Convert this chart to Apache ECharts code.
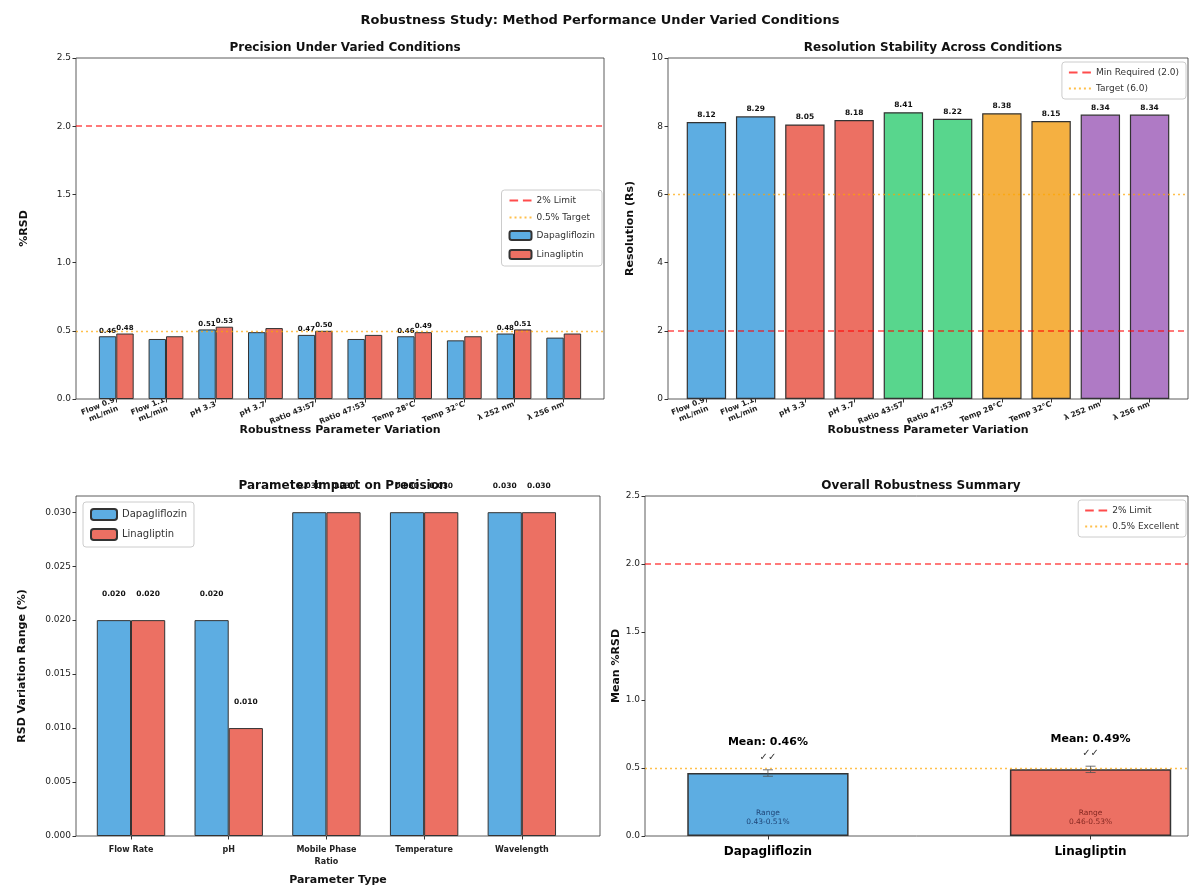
<!DOCTYPE html>
<html>
<head>
<meta charset="utf-8">
<script src="https://cdn.jsdelivr.net/npm/echarts@6/dist/echarts.min.js"></script>
<style>html,body{margin:0;padding:0;background:#fff}#chart{width:1190px;height:890px}</style>
</head>
<body>
<div id="chart"></div>
<script>
// conditions and measured values
const conditions = ['Flow 0.9\nmL/min', 'Flow 1.1\nmL/min', 'pH 3.3', 'pH 3.7', 'Ratio 43:57',
    'Ratio 47:53', 'Temp 28°C', 'Temp 32°C', 'λ 252 nm', 'λ 256 nm'];
const dapaRSD = [0.46, 0.44, 0.51, 0.49, 0.47, 0.44, 0.46, 0.43, 0.48, 0.45];
const linaRSD = [0.48, 0.46, 0.53, 0.52, 0.50, 0.47, 0.49, 0.46, 0.51, 0.48];
const resolution = [8.12, 8.29, 8.05, 8.18, 8.41, 8.22, 8.38, 8.15, 8.34, 8.34];
const paramTypes = ['Flow Rate', 'pH', 'Mobile Phase\nRatio', 'Temperature', 'Wavelength'];
const drugs = ['Dapagliflozin', 'Linagliptin'];
const rsdLimit = 2.0, rsdTarget = 0.5;
const rsMin = 2.0, rsTarget = 6.0;

const BLUE = '#5DADE2', RED = '#EC7063';
const groupColors = ['#5DADE2', '#EC7063', '#58D68D', '#F5B041', '#AF7AC5'];
const EDGE = '#333';
const FONT = 'DejaVu Sans';

// derived values
function range(arr, i) { return Math.round(Math.abs(arr[2 * i] - arr[2 * i + 1]) * 1000) / 1000; }
const dapaRange = paramTypes.map((p, i) => range(dapaRSD, i));
const linaRange = paramTypes.map((p, i) => range(linaRSD, i));
function mean(a) { return a.reduce((s, v) => s + v, 0) / a.length; }
function std(a) { const m = mean(a); return Math.sqrt(a.reduce((s, v) => s + (v - m) * (v - m), 0) / a.length); }
const allRSD = [dapaRSD, linaRSD];
const means = allRSD.map(mean);
const stds = allRSD.map(std);

const dashIcon = 'path://M0,0h9v2h-9zM14,0h9v2h-9z';
const dotIcon = 'path://M0,0h2v2h-2zM5,0h2v2h-2zM10,0h2v2h-2zM15,0h2v2h-2zM20,0h2v2h-2z';

let myChart = echarts.init(document.getElementById('chart'));

function refLine(name, value, kind, xi) {
    const color = kind === 'dash' ? 'rgba(255,0,0,0.7)' : 'rgba(255,165,0,0.7)';
    return {
        type: 'line', name: name, xAxisIndex: xi, yAxisIndex: xi, data: [],
        symbol: 'none', itemStyle: {color: color},
        lineStyle: {color: color, type: kind === 'dash' ? 'dashed' : 'dotted', width: kind === 'dash' ? 1.6 : 1.4},
        markLine: {
            silent: true, symbol: 'none', label: {show: false}, animation: false,
            lineStyle: {color: color, type: kind === 'dash' ? [6, 4] : [2, 3], width: kind === 'dash' ? 1.6 : 1.4},
            data: [{yAxis: value}]
        }
    };
}

function legendBox(pos, items) {
    return Object.assign({
        orient: 'vertical', itemWidth: 22, itemHeight: 9, itemGap: 7,
        padding: [6, 7], borderColor: '#ccc', borderWidth: 1, borderRadius: 3,
        backgroundColor: 'rgba(255,255,255,0.85)',
        textStyle: {fontFamily: FONT, fontSize: 9, color: '#333'},
        data: items
    }, pos);
}

const axisCommon = {
    axisLine: {show: false, onZero: false},
    splitLine: {show: false},
    nameTextStyle: {fontFamily: FONT, fontSize: 11, fontWeight: 'bold', color: '#111'}
};
function xAxis(gi, min, max, labels, labelStyle, name, nameGap) {
    const ticks = labels.map((l, i) => i);
    return Object.assign({}, axisCommon, {
        gridIndex: gi, type: 'value', min: min, max: max,
        name: name, nameLocation: 'middle', nameGap: nameGap, nameMoveOverlap: false,
        axisTick: {show: true, length: 3.5, lineStyle: {color: '#333'}, customValues: ticks},
        axisLabel: Object.assign({customValues: ticks, formatter: v => labels[Math.round(v)],
            fontFamily: FONT, fontWeight: 'bold', color: '#222'}, labelStyle)
    });
}
function yAxis(gi, max, interval, dec, name, nameGap) {
    return Object.assign({}, axisCommon, {
        gridIndex: gi, type: 'value', min: 0, max: max, interval: interval,
        name: name, nameLocation: 'middle', nameGap: nameGap,
        axisTick: {show: true, length: 3.5, lineStyle: {color: '#333'}},
        axisLabel: {formatter: v => v.toFixed(dec), fontFamily: FONT, fontSize: 9, color: '#222', margin: 5, showMaxLabel: dec !== 3}
    });
}

const subTitle = {fontFamily: FONT, fontSize: 12, fontWeight: 'bold', color: '#111'};

myChart.setOption({
    animation: false,
    textStyle: {fontFamily: FONT},
    title: [
        {text: 'Robustness Study: Method Performance Under Varied Conditions', left: 595, top: 9, textAlign: 'center',
            textStyle: {fontFamily: FONT, fontSize: 13, fontWeight: 'bold', color: '#111'}},
        {text: 'Precision Under Varied Conditions', left: 340, top: 37, textAlign: 'center', textStyle: subTitle},
        {text: 'Resolution Stability Across Conditions', left: 928, top: 37, textAlign: 'center', textStyle: subTitle},
        {text: 'Parameter Impact on Precision', left: 338, top: 475, textAlign: 'center', textStyle: subTitle},
        {text: 'Overall Robustness Summary', left: 916, top: 475, textAlign: 'center', textStyle: subTitle}
    ],
    legend: [
        legendBox({right: 588, top: 190, itemGap: 8}, [
            {name: '2% Limit', icon: dashIcon}, {name: '0.5% Target', icon: dotIcon}, 'Dapagliflozin', 'Linagliptin']),
        legendBox({right: 4, top: 62}, [
            {name: 'Min Required (2.0)', icon: dashIcon}, {name: 'Target (6.0)', icon: dotIcon}]),
        legendBox({left: 83, top: 502, itemWidth: 26, itemHeight: 11, itemGap: 7, textStyle: {fontFamily: FONT, fontSize: 10, color: '#333'}},
            ['Dapagliflozin', 'Linagliptin']),
        legendBox({right: 4, top: 500}, [
            {name: '2% Limit', icon: dashIcon}, {name: '0.5% Excellent', icon: dotIcon}])
    ],
    grid: [
        {left: 76, top: 58, width: 528, height: 341, show: true, borderColor: '#333', borderWidth: 0.8},
        {left: 668, top: 58, width: 520, height: 341, show: true, borderColor: '#333', borderWidth: 0.8},
        {left: 76, top: 496, width: 524, height: 340, show: true, borderColor: '#333', borderWidth: 0.8},
        {left: 645, top: 496, width: 543, height: 340, show: true, borderColor: '#333', borderWidth: 0.8}
    ],
    xAxis: [
        xAxis(0, -0.81, 9.81, conditions, {fontSize: 7.5, rotate: 22, margin: 5, lineHeight: 9}, 'Robustness Parameter Variation', 26),
        xAxis(1, -0.78, 9.78, conditions, {fontSize: 7.5, rotate: 22, margin: 5, lineHeight: 9}, 'Robustness Parameter Variation', 26),
        xAxis(2, -0.563, 4.8, paramTypes, {fontSize: 8, margin: 8, lineHeight: 12}, 'Parameter Type', 39),
        xAxis(3, -0.381, 1.302, drugs, {fontSize: 12, margin: 10, color: '#000'}, '', 20)
    ],
    yAxis: [
        yAxis(0, 2.5, 0.5, 1, '%RSD', 46),
        yAxis(1, 10, 2, 0, 'Resolution (Rs)', 32),
        yAxis(2, 0.0315, 0.005, 3, 'RSD Variation Range (%)', 48),
        yAxis(3, 2.5, 0.5, 1, 'Mean %RSD', 20)
    ],
    series: [
        refLine('2% Limit', rsdLimit, 'dash', 0),
        refLine('0.5% Target', rsdTarget, 'dot', 0),
        {
            type: 'bar', name: 'Dapagliflozin', xAxisIndex: 0, yAxisIndex: 0, barWidth: '35%', barGap: '0%',
            data: dapaRSD.map((v, i) => [i, v]),
            itemStyle: {color: BLUE, borderColor: EDGE, borderWidth: 1},
            label: {show: true, position: 'top', distance: 2, fontSize: 7, fontWeight: 'bold', color: '#111',
                formatter: p => p.dataIndex % 2 === 0 ? p.value[1].toFixed(2) : ''}
        },
        {
            type: 'bar', name: 'Linagliptin', xAxisIndex: 0, yAxisIndex: 0, barWidth: '35%', barGap: '0%',
            data: linaRSD.map((v, i) => [i, v]),
            itemStyle: {color: RED, borderColor: EDGE, borderWidth: 1},
            label: {show: true, position: 'top', distance: 2, fontSize: 7, fontWeight: 'bold', color: '#111',
                formatter: p => p.dataIndex % 2 === 0 ? p.value[1].toFixed(2) : ''}
        },
        refLine('Min Required (2.0)', rsMin, 'dash', 1),
        refLine('Target (6.0)', rsTarget, 'dot', 1),
        {
            type: 'bar', name: 'Resolution', xAxisIndex: 1, yAxisIndex: 1, barWidth: '80%',
            data: resolution.map((v, i) => ({value: [i, v], itemStyle: {color: groupColors[Math.floor(i / 2)]}})),
            itemStyle: {borderColor: EDGE, borderWidth: 1.2},
            label: {show: true, position: 'top', distance: 3, fontSize: 7.5, fontWeight: 'bold', color: '#111',
                formatter: p => p.value[1].toFixed(2)}
        },
        {
            type: 'bar', name: 'Dapagliflozin', xAxisIndex: 2, yAxisIndex: 2, barWidth: '35%', barGap: '0%',
            data: dapaRange.map((v, i) => [i, v]),
            itemStyle: {color: BLUE, borderColor: EDGE, borderWidth: 1},
            label: {show: true, position: 'top', distance: 22, fontSize: 7.5, fontWeight: 'bold', color: '#111',
                formatter: p => p.value[1].toFixed(3)}
        },
        {
            type: 'bar', name: 'Linagliptin', xAxisIndex: 2, yAxisIndex: 2, barWidth: '35%', barGap: '0%',
            data: linaRange.map((v, i) => [i, v]),
            itemStyle: {color: RED, borderColor: EDGE, borderWidth: 1},
            label: {show: true, position: 'top', distance: 22, fontSize: 7.5, fontWeight: 'bold', color: '#111',
                formatter: p => p.value[1].toFixed(3)}
        },
        refLine('2% Limit', rsdLimit, 'dash', 3),
        refLine('0.5% Excellent', rsdTarget, 'dot', 3),
        {
            type: 'bar', name: 'Mean %RSD', xAxisIndex: 3, yAxisIndex: 3, barWidth: '50%', barGap: '-100%',
            data: means.map((m, i) => ({value: [i, m], itemStyle: {color: [BLUE, RED][i]}})),
            itemStyle: {borderColor: EDGE, borderWidth: 1.5},
            label: {show: true, position: 'top', distance: 9,
                formatter: p => '{m|Mean: ' + p.value[1].toFixed(2) + '%}\n{c|✓✓}',
                rich: {m: {fontFamily: FONT, fontSize: 11, fontWeight: 'bold', color: '#000', lineHeight: 15},
                    c: {fontFamily: FONT, fontSize: 10, color: '#333', lineHeight: 14}}}
        },
        {
            type: 'bar', name: 'Range', xAxisIndex: 3, yAxisIndex: 3, barWidth: '50%', barGap: '-100%', z: 3,
            data: means.map((m, i) => ({value: [i, m],
                label: {color: ['rgba(20,50,100,0.85)', 'rgba(110,25,20,0.85)'][i]}})),
            itemStyle: {color: 'rgba(0,0,0,0)', borderWidth: 0},
            label: {show: true, position: 'insideBottom', distance: 9, fontSize: 7.5, lineHeight: 9,
                formatter: p => 'Range\n' + Math.min(...allRSD[p.dataIndex]).toFixed(2) + '-' +
                    Math.max(...allRSD[p.dataIndex]).toFixed(2) + '%'}
        },
        {
            type: 'custom', name: 'SD', xAxisIndex: 3, yAxisIndex: 3, z: 5,
            data: means.map((m, i) => [i, m, stds[i]]),
            encode: {x: 0, y: 1},
            renderItem: function (params, api) {
                const x = api.value(0), m = api.value(1), s = api.value(2);
                const top = api.coord([x, m + s]), bot = api.coord([x, m - s]);
                const w = 5, st = {stroke: 'rgba(80,80,80,0.8)', lineWidth: 1};
                return {type: 'group', children: [
                    {type: 'line', shape: {x1: top[0], y1: top[1], x2: bot[0], y2: bot[1]}, style: st},
                    {type: 'line', shape: {x1: top[0] - w, y1: top[1], x2: top[0] + w, y2: top[1]}, style: st},
                    {type: 'line', shape: {x1: bot[0] - w, y1: bot[1], x2: bot[0] + w, y2: bot[1]}, style: st}
                ]};
            }
        }
    ]
});
</script>
</body>
</html>
